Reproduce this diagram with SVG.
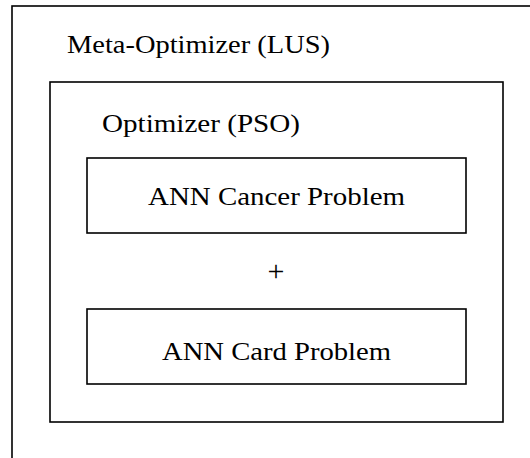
<svg xmlns="http://www.w3.org/2000/svg" width="530" height="458" viewBox="0 0 530 458">
  <style>
    .box { fill: none; stroke: #000; stroke-width: 1.6; }
  </style>
  <rect width="530" height="458" fill="#fff"/>
  <g font-family="'Liberation Serif', 'DejaVu Serif', serif" font-size="25" fill="#000">
    <!-- meta-optimizer frame (extends past the canvas edge) -->
    <g id="meta-optimizer">
      <rect class="box" x="12" y="6" width="540" height="480"/>
      <text x="67" y="53" textLength="263" lengthAdjust="spacingAndGlyphs">Meta-Optimizer (LUS)</text>
    </g>
    <g id="optimizer">
      <rect class="box" x="50" y="82" width="453" height="340"/>
      <text x="102" y="132" textLength="198" lengthAdjust="spacingAndGlyphs">Optimizer (PSO)</text>
    </g>
    <g id="cancer-problem">
      <rect class="box" x="87" y="158" width="379" height="75"/>
      <text x="148" y="205" textLength="257" lengthAdjust="spacingAndGlyphs">ANN Cancer Problem</text>
    </g>
    <g id="card-problem">
      <rect class="box" x="87" y="309" width="379" height="75"/>
      <text x="162" y="360" textLength="229" lengthAdjust="spacingAndGlyphs">ANN Card Problem</text>
    </g>
    <g id="connectors">
      <text x="276" y="281" text-anchor="middle" font-size="30">+</text>
    </g>
  </g>
</svg>
